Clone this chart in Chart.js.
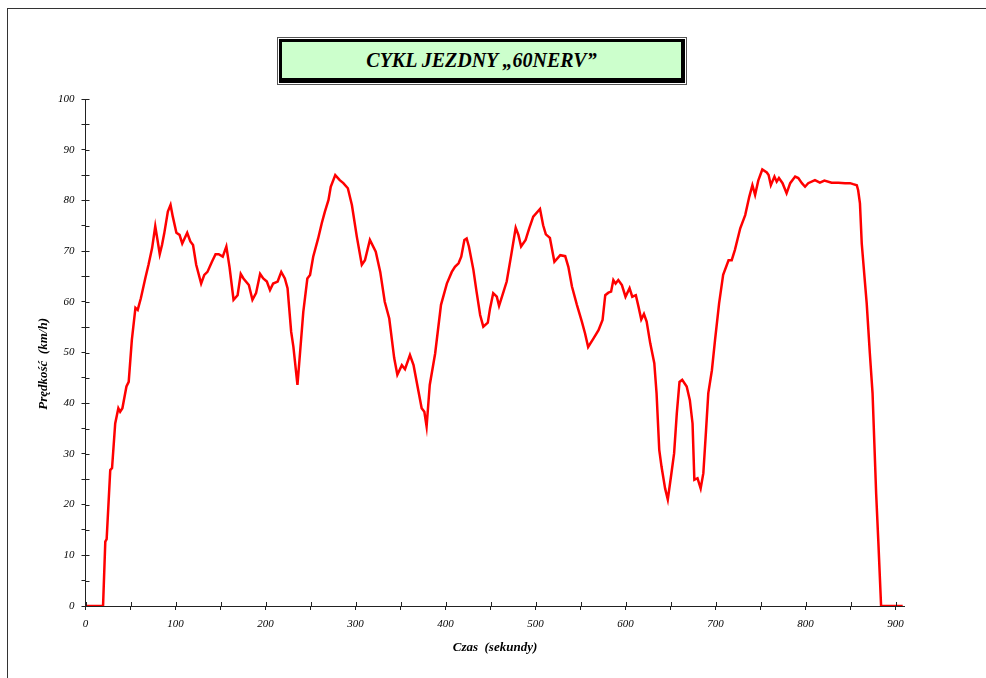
<!DOCTYPE html>
<html>
<head>
<meta charset="utf-8">
<script src="https://cdn.jsdelivr.net/npm/chart.js@4.4.0/dist/chart.umd.min.js"></script>
<style>
  html, body { margin: 0; padding: 0; background: #fff; }
  #wrap { position: relative; width: 986px; height: 678px; overflow: hidden; }
  #frame { position: absolute; left: 7px; top: 8px; width: 1200px; height: 900px;
           border-left: 1px solid #333; border-top: 1px solid #333; }
  #titleBox { position: absolute; left: 277px; top: 37px; width: 410px; height: 48px;
              border: 1px solid #555; padding: 1px; box-sizing: border-box; background: #fff; }
  #titleInner { width: 100%; height: 100%; box-sizing: border-box; background: #ccffcc;
                border: 3px solid #000; border-right-width: 4px; border-bottom-width: 5px;
                font: italic bold 20px "Liberation Serif", "Times New Roman", serif;
                display: flex; align-items: center; justify-content: center; color: #000; padding-top: 1px; }
  canvas { position: absolute; left: 0; top: 0; }
</style>
</head>
<body>
<div id="wrap">
  <div id="frame"></div>
  <canvas id="c" width="986" height="678"></canvas>
  <div id="titleBox"><div id="titleInner">CYKL JEZDNY „60NERV”</div></div>
</div>
<script>
// time in seconds, speed in km/h
const czas = [0, 19.5, 22, 23.5, 27.5, 29.5, 33, 36.5, 38.5, 41, 45.5, 48, 51.5, 55.5, 58, 61.5, 66.5, 70, 74, 77.5,
  80, 82.5, 85, 87.5, 91.5, 94.5, 97, 101, 104.5, 107.5, 113, 116.5, 119.5, 123, 128.5, 132, 135.5, 140.5, 144.5, 148,
  152.5, 156.5, 160, 164.5, 169, 172.5, 175.5, 181.5, 185.5, 189.5, 194, 197.5, 201.5, 205, 208.5, 213.5, 217.5, 221.5, 224.5, 228.5,
  231, 235.5, 238.5, 242, 246.5, 249.5, 253, 258.5, 262.5, 266, 270, 272.5, 277.5, 282.5, 286.5, 291.5, 296, 301.5, 307, 310.5,
  316, 322.5, 327.5, 332.5, 337.5, 343, 346.5, 351.5, 355, 360.5, 364.5, 370, 373.5, 376.5, 379, 382.5, 388.5, 395, 401.5, 407,
  410.5, 414.5, 417.5, 421, 423.5, 426, 431, 434.5, 438.5, 442, 447, 449.5, 453, 457, 459.5, 464.5, 468, 473, 478, 481,
  484, 489, 493, 497.5, 505, 508.5, 511.5, 516, 521, 527.5, 533, 536.5, 540.5, 546, 551.5, 555, 558.5, 564.5, 570, 574.5,
  577.5, 581, 584, 586.5, 589, 592, 596, 600, 604.5, 607.5, 611.5, 614.5, 617.5, 620.5, 623.5, 627.5, 632, 634.5, 637.5, 640,
  644, 647, 650.5, 654, 657, 660, 663, 668, 671.5, 674.5, 676.5, 680, 683.5, 686.5, 689.5, 692, 696, 699.5, 704, 708.5,
  714.5, 718, 721.5, 727.5, 733, 737.5, 741, 744, 747.5, 752, 757, 759, 761.5, 765.5, 768, 770.5, 774.5, 779, 783, 788.5,
  792, 796, 799.5, 803, 810.5, 816, 821, 829, 836.5, 844, 849.5, 853, 857, 858.5, 860.5, 862.5, 865.5, 868, 871.5, 874.5,
  876.5, 878.5, 881, 884, 908];
const predkosc = [0, 0, 12.7, 13.2, 26.8, 27.2, 36, 39, 38.3, 39, 43.3, 44.2, 52.5, 58.8, 58.4, 60.7, 64.7, 67.3, 70.6, 74.9,
  72.2, 69.4, 71.2, 73.5, 77.8, 79.1, 76.8, 73.6, 73.2, 71.5, 73.6, 71.9, 71.2, 67.3, 63.6, 65.3, 65.9, 67.9, 69.4, 69.4,
  68.9, 70.9, 66.9, 60.4, 61.3, 65.5, 64.6, 63.3, 60.4, 61.7, 65.5, 64.6, 64, 62.3, 63.6, 64, 65.9, 64.6, 62.7, 54.1,
  51.1, 43.6, 50.2, 58, 64.6, 65.3, 68.9, 72.5, 75.5, 77.8, 80.1, 82.7, 85, 84, 83.4, 82.4, 79.1, 72.8, 67.3, 68.2,
  72.2, 69.9, 65.9, 60, 56.7, 48.9, 45.6, 47.5, 46.7, 49.5, 47.5, 42.3, 39, 38.3, 35.4, 43.6, 49.8, 59.4, 63.6, 65.9,
  66.9, 67.6, 68.9, 72.2, 72.5, 70.9, 66.3, 62, 57.4, 55.1, 55.9, 58.7, 61.7, 61, 59.2, 62, 64, 69.2, 74.6, 73.2,
  70.9, 72.2, 74.5, 76.8, 78.3, 75.1, 73.3, 72.6, 67.9, 69.2, 69, 66.9, 63, 59.4, 56.1, 53.8, 51.1, 52.8, 54.4, 56.4,
  61.3, 61.8, 62, 64.3, 63.6, 64.3, 63.3, 61, 62.7, 61, 61.3, 59, 56.5, 57.6, 56.1, 51.8, 47.9, 42, 30.8, 27.5,
  23.2, 21, 25.5, 30.1, 38, 44.2, 44.6, 43.3, 40.6, 36, 24.9, 25.2, 23.2, 26.2, 34.7, 42, 46.5, 52.5, 59.7, 65.3,
  68.2, 68.2, 70.2, 74.5, 77.1, 80.7, 83, 81.1, 83.9, 86.1, 85.5, 85, 83, 84.7, 83.7, 84.4, 83.4, 81.4, 83.4, 84.7,
  84.4, 83.4, 82.7, 83.4, 84, 83.5, 83.9, 83.5, 83.5, 83.4, 83.4, 83.2, 83, 82, 79.4, 71.5, 65, 59.7, 49.8, 42,
  32.1, 22.2, 12.4, 0, 0];

const punkty = czas.map((t, i) => ({ x: t, y: predkosc[i] }));

const tickFont = { family: 'Liberation Serif', style: 'italic', size: 11 };
const titleFont = { family: 'Liberation Serif', style: 'italic', weight: 'bold', size: 13 };

// tick marks crossing the axis (inner half)
const crossTicks = {
  id: 'crossTicks',
  afterDraw(chart) {
    const ctx = chart.ctx, x = chart.scales.x, y = chart.scales.y;
    ctx.save();
    ctx.strokeStyle = '#222';
    ctx.lineWidth = 1;
    ctx.beginPath();
    x.ticks.forEach(t => {
      const px = Math.round(x.getPixelForValue(t.value)) + 0.5;
      ctx.moveTo(px, y.bottom);
      ctx.lineTo(px, y.bottom - 4);
    });
    y.ticks.forEach(t => {
      const py = Math.round(y.getPixelForValue(t.value)) + 0.5;
      ctx.moveTo(x.left, py);
      ctx.lineTo(x.left + 4, py);
    });
    ctx.stroke();
    ctx.restore();
  }
};

new Chart(document.getElementById('c'), {
  type: 'line',
  data: {
    datasets: [{
      data: punkty,
      borderColor: '#ff0000',
      borderWidth: 2.5,
      pointRadius: 0,
      tension: 0,
      fill: false
    }]
  },
  options: {
    responsive: false,
    animation: false,
    layout: { padding: { left: 32, top: 99, right: 81.5, bottom: 20 } },
    plugins: { legend: { display: false }, tooltip: { enabled: false }, title: { display: false } },
    scales: {
      x: {
        type: 'linear',
        min: 0,
        max: 910,
        afterFit(scale) { scale.height = 52; },
        border: { color: '#222', width: 1 },
        grid: { drawOnChartArea: false, drawTicks: true, tickLength: 4, color: '#222' },
        ticks: {
          stepSize: 50,
          includeBounds: false,
          autoSkip: false,
          maxRotation: 0,
          padding: 8,
          color: '#000',
          font: tickFont,
          callback: v => (v % 100 === 0 ? v : '')
        },
        title: { display: true, text: 'Czas  (sekundy)', color: '#000', font: titleFont, padding: 3 }
      },
      y: {
        min: 0,
        max: 100,
        afterFit(scale) { scale.width = 53.5; },
        border: { color: '#222', width: 1 },
        grid: { drawOnChartArea: false, drawTicks: true, tickLength: 4, color: '#222' },
        ticks: {
          stepSize: 5,
          autoSkip: false,
          padding: 7,
          color: '#000',
          font: tickFont,
          callback: v => (v % 10 === 0 ? v : '')
        },
        title: { display: true, text: 'Prędkość  (km/h)       ', color: '#000', font: titleFont, padding: 4 }
      }
    }
  },
  plugins: [crossTicks]
});
</script>
</body>
</html>
